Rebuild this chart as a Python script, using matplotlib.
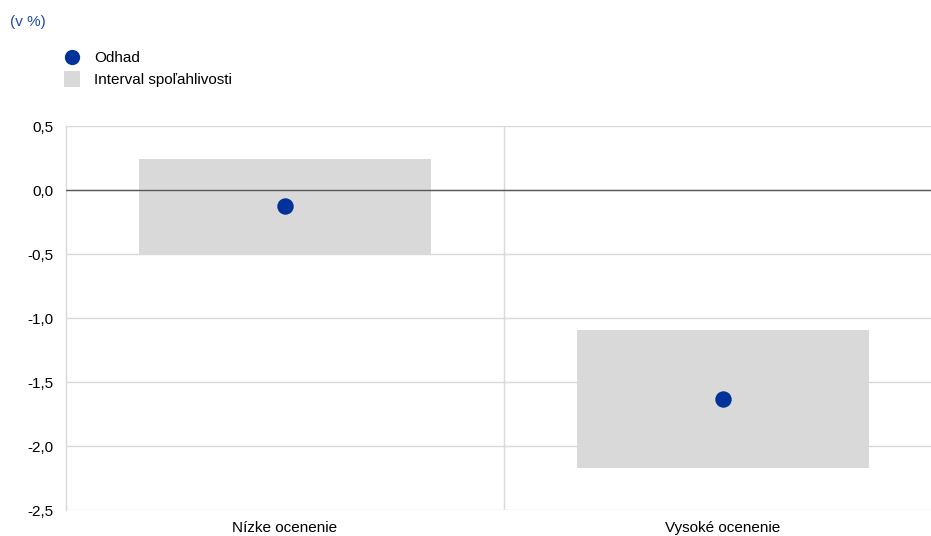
import matplotlib
matplotlib.use("Agg")
import matplotlib.pyplot as plt
from matplotlib.patches import Rectangle
from matplotlib.lines import Line2D

plt.rcParams['font.family'] = ['Liberation Sans', 'DejaVu Sans']

categories = ["Nízke ocenenie", "Vysoké ocenenie"]
estimate = [-0.125, -1.63]
ci_low = [-0.50, -2.17]
ci_high = [0.24, -1.09]
yticks = [0.5, 0.0, -0.5, -1.0, -1.5, -2.0, -2.5]
ytick_labels = ["0,5", "0,0", "-0,5", "-1,0", "-1,5", "-2,0", "-2,5"]

W, H = 931, 536
fig = plt.figure(figsize=(W / 100, H / 100), dpi=100)
left, right, top, bottom = 66, 942, 126, 510
ax = fig.add_axes([left / W, 1 - bottom / H, (right - left) / W, (bottom - top) / H])

grid_col = "#d9d9d9"
box_col = "#d9d9d9"
blue = "#003299"
fs = 11

x = list(range(len(categories)))
ax.set_xlim(-0.5, len(categories) - 0.5)
ax.set_ylim(-2.5, 0.5)

for yv in yticks:
    ax.axhline(yv, color=grid_col, lw=1, zorder=0)
ax.axhline(0, color="#595959", lw=1, zorder=3)
for i in range(len(categories) - 1):
    ax.axvline(i + 0.5, color=grid_col, lw=1, zorder=0)

bw = 0.667
for xi, lo, hi in zip(x, ci_low, ci_high):
    ax.add_patch(Rectangle((xi - bw / 2, lo), bw, hi - lo, facecolor=box_col,
                           edgecolor="none", zorder=2))
ax.scatter(x, estimate, s=140, color=blue, zorder=4, linewidths=0)

for s in ["top", "right", "bottom"]:
    ax.spines[s].set_visible(False)
ax.spines["left"].set_color(grid_col)
ax.spines["left"].set_linewidth(1)

ax.set_yticks(yticks)
ax.set_yticklabels(ytick_labels, fontsize=fs, color="#000000")
ax.set_xticks(x)
ax.set_xticklabels(categories, fontsize=fs, color="#000000")
ax.tick_params(axis="both", length=0)
ax.tick_params(axis="y", pad=9)
ax.tick_params(axis="x", pad=8)

fig.text(10 / W, 1 - 22 / H, "(v %)", fontsize=fs, color="#1f4ea8", va="center", ha="left")

handles = [
    Line2D([], [], marker="o", linestyle="none", markersize=11, markerfacecolor=blue,
           markeredgewidth=0, label="Odhad"),
    Line2D([], [], marker="s", linestyle="none", markersize=11, markerfacecolor=box_col,
           markeredgewidth=0, label="Interval spoľahlivosti"),
]
fig.legend(handles=handles, loc="upper left", bbox_to_anchor=(63 / W, 1 - 51 / H),
           frameon=False, fontsize=fs, handletextpad=0.85, labelspacing=0.55,
           handlelength=1.2, borderaxespad=0, borderpad=0)

fig.savefig("out.png", dpi=100)
